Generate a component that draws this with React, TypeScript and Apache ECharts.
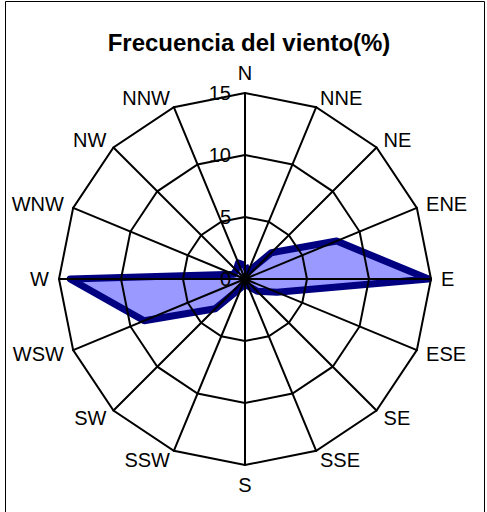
import React, { useEffect, useRef } from "react";
import * as echarts from "echarts";

// Directions listed clockwise from North
const directions = ["N", "NNE", "NE", "ENE", "E", "ESE", "SE", "SSE", "S", "SSW", "SW", "WSW", "W", "WNW", "NW", "NNW"];
// Wind frequency (%) for each direction, clockwise from North
const frequency = [1.1, 0.6, 3.0, 8.0, 14.8, 2.8, 1.4, 0.6, 0.4, 0.7, 3.4, 8.8, 14.1, 1.0, 1.0, 1.4];
const axisMax = 15;
const tickStep = 5;
const titleText = "Frecuencia del viento(%)";

export default function App() {
  const ref = useRef<HTMLDivElement>(null);
  useEffect(() => {
    if (!ref.current) return;
    const chart = echarts.init(ref.current, null, { renderer: "svg" });
    // ECharts radar runs counter-clockwise: reorder N, NNW, NW, ... NNE
    const order = [0, ...Array.from({ length: directions.length - 1 }, (_, i) => directions.length - 1 - i)];
    const font = "'Liberation Sans', Arial, sans-serif";
    const indicator = order.map((idx, k) => ({
      name: directions[idx],
      min: 0,
      max: axisMax,
      axisLabel: k === 0 ? { show: true } : { show: false },
    }));
    const values = order.map((idx) => frequency[idx]);
    chart.setOption({
      animation: false,
      title: {
        text: titleText,
        left: 249,
        top: 30,
        textAlign: "center",
        padding: 0,
        textStyle: { fontFamily: font, fontSize: 24, fontWeight: "bold", color: "#000" },
      },
      graphic: [
        {
          type: "rect",
          shape: { x: 5.5, y: 1.5, width: 479, height: 540 },
          style: { fill: "none", stroke: "#000", lineWidth: 1 },
          silent: true,
        },
      ],
      radar: {
        z: 3,
        center: [245, 279],
        radius: 186,
        startAngle: 90,
        shape: "polygon",
        splitNumber: axisMax / tickStep,
        nameGap: 10,
        axisName: { color: "#000", fontSize: 20, fontFamily: font },
        axisLine: { show: true, lineStyle: { color: "#000", width: 2 } },
        splitLine: { show: true, lineStyle: { color: "#000", width: 2 } },
        splitArea: { show: false },
        axisTick: { show: false },
        axisLabel: { show: false, color: "#000", fontSize: 20, fontFamily: font, margin: 14 },
        indicator,
      },
      series: [
        {
          type: "radar",
          z: 1,
          symbol: "none",
          lineStyle: { width: 0, opacity: 0 },
          areaStyle: { color: "#9999FF", opacity: 1 },
          data: [{ value: values, name: "Frecuencia" }],
        },
        {
          type: "radar",
          z: 2,
          symbol: "none",
          lineStyle: { color: "#000080", width: 7, join: "round" },
          data: [{ value: values, name: "Frecuencia" }],
        },
      ],
    });
    return () => chart.dispose();
  }, []);
  return (
    <div
      ref={ref}
      style={{ position: "absolute", left: 0, top: 0, width: 487, height: 512, background: "#fff" }}
    />
  );
}
